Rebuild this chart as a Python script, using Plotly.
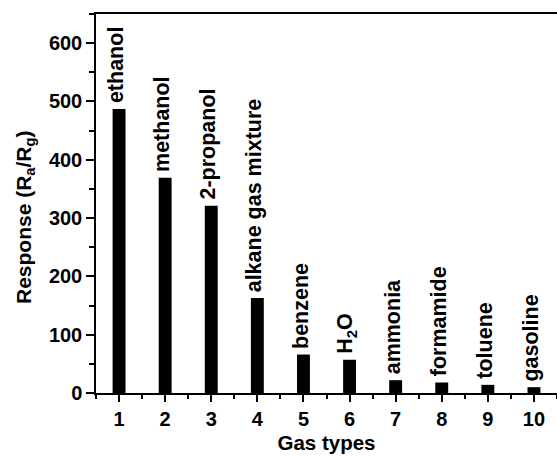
import plotly.graph_objects as go

gas_index = [1, 2, 3, 4, 5, 6, 7, 8, 9, 10]
gas_names = ["ethanol", "methanol", "2-propanol", "alkane gas mixture", "benzene",
             "H<sub>2</sub>O", "ammonia", "formamide", "toluene", "gasoline"]
response = [487, 369, 321, 163, 66, 57, 22, 18, 14, 10]
y_ticks = [0, 100, 200, 300, 400, 500, 600]

FONT = "Liberation Sans, Arial, sans-serif"

L, R, T, B = 96, 0, 14, 63
W, H = 557, 456
PW, PH = W - L - R, H - T - B

fig = go.Figure()
fig.add_trace(go.Bar(
    x=gas_index, y=response, width=0.28,
    marker=dict(color="black", line=dict(width=0)),
    hoverinfo="skip",
))

for xi, yi, name in zip(gas_index, response, gas_names):
    fig.add_annotation(
        x=xi, y=yi, text=name, showarrow=False, textangle=-90,
        xanchor="center", yanchor="bottom", xshift=-3, yshift=5, borderpad=0,
        font=dict(family=FONT, size=21.5, color="black", weight="bold"),
    )

# y-axis title as annotation
fig.add_annotation(
    xref="paper", yref="paper", x=(25 - L) / PW, y=(H - B - 217) / PH,
    text="Response (R<sub>a</sub>/R<sub>g</sub>)", showarrow=False, textangle=-90,
    xanchor="center", yanchor="middle",
    font=dict(family=FONT, size=21, color="black", weight="bold"),
)

fig.update_layout(
    width=W, height=H,
    margin=dict(l=L, r=R, t=T, b=B),
    plot_bgcolor="white", paper_bgcolor="white",
    showlegend=False,
    font=dict(family=FONT, color="black"),
    xaxis=dict(
        range=[0.5, 10.5], tickmode="array", tickvals=gas_index,
        ticktext=[str(v) for v in gas_index],
        showline=True, linecolor="black", linewidth=1.5, mirror=True,
        ticks="outside", ticklen=7, tickwidth=1.5, tickcolor="black",
        minor=dict(dtick=0.5, tick0=0.5, ticks="outside", ticklen=4, tickwidth=1.5, tickcolor="black"),
        tickfont=dict(family=FONT, size=20, color="black", weight="bold"),
        title=dict(text="Gas types", font=dict(family=FONT, size=20.5, color="black", weight="bold"), standoff=7),
        showgrid=False, zeroline=False,
    ),
    yaxis=dict(
        range=[0, 650], tickmode="array", tickvals=y_ticks,
        showline=True, linecolor="black", linewidth=1.5,
        ticks="outside", ticklen=8, tickwidth=1.5, tickcolor="black",
        minor=dict(dtick=50, tick0=0, ticks="outside", ticklen=5, tickwidth=1.5, tickcolor="black"),
        tickfont=dict(family=FONT, size=20, color="black", weight="bold"),
        showgrid=False, zeroline=False,
    ),
)

fig.write_html("out.html")
